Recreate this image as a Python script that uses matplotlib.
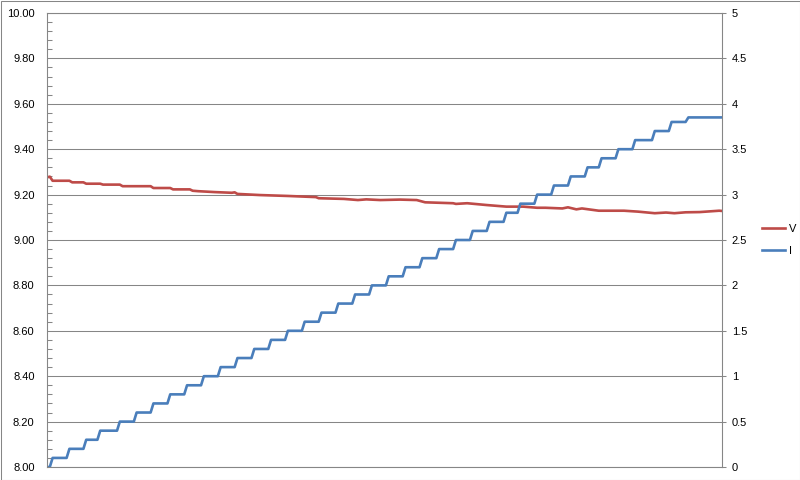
"""
Voltage / current log chart (Excel look)
"""
import numpy as np
import matplotlib
matplotlib.use("Agg")
import matplotlib.pyplot as plt
from matplotlib.patches import Rectangle
from matplotlib.ticker import MultipleLocator, FormatStrFormatter, FuncFormatter

n_samples = 242

# current: step level and the sample index where it starts
i_levels = [0.0, 0.1, 0.2, 0.3, 0.4, 0.5, 0.6, 0.7, 0.8, 0.9,
            1.0, 1.1, 1.2, 1.3, 1.4, 1.5, 1.6, 1.7, 1.8, 1.9,
            2.0, 2.1, 2.2, 2.3, 2.4, 2.5, 2.6, 2.7, 2.8, 2.9,
            3.0, 3.1, 3.2, 3.3, 3.4, 3.5, 3.6, 3.7, 3.8, 3.85]
i_starts = [0, 2, 8, 14, 19, 26, 32, 38, 44, 50,
            56, 62, 68, 74, 80, 86, 92, 98, 104, 110,
            116, 122, 128, 134, 140, 146, 152, 158, 164, 169,
            175, 181, 187, 193, 198, 204, 210, 217, 223, 229]

# voltage read at sample indices
v_idx = [0, 1, 2, 8, 9, 13, 14, 19, 20, 26, 27, 37, 38, 44, 45, 51, 52, 54,
         60, 66, 67, 68, 76, 86, 96, 97, 106, 111, 114, 119, 126, 132, 135,
         145, 146, 150, 157, 164, 170, 175, 178, 184, 186, 189, 191, 197,
         206, 211, 217, 221, 224, 228, 233, 240, 241]
v_val = [9.276, 9.279, 9.261, 9.261, 9.254, 9.254, 9.248, 9.248, 9.244,
         9.244, 9.237, 9.237, 9.229, 9.229, 9.223, 9.223, 9.217, 9.215,
         9.211, 9.208, 9.210, 9.203, 9.198, 9.194, 9.189, 9.184, 9.181,
         9.176, 9.179, 9.176, 9.178, 9.176, 9.166, 9.162, 9.159, 9.162,
         9.154, 9.147, 9.147, 9.142, 9.142, 9.139, 9.144, 9.135, 9.139,
         9.129, 9.129, 9.125, 9.118, 9.121, 9.118, 9.122, 9.123, 9.129,
         9.128]

GRAY = "#868686"
RED = "#BE4B48"
BLUE = "#4A7EBB"


def main():
    """
    build and save the chart
    """
    plt.rcParams["font.family"] = ["Liberation Sans", "DejaVu Sans"]
    i_series = np.repeat(i_levels, np.diff(i_starts + [n_samples]))
    samples = np.arange(n_samples)

    fig = plt.figure(figsize=(8, 4.8), dpi=100)
    axes = fig.add_axes([47 / 800, 13 / 480, 675 / 800, 454 / 480])
    axes2 = axes.twinx()

    line_v, = axes.plot(v_idx, v_val, color=RED, lw=1.9, label="V",
                        solid_joinstyle="round")
    line_i, = axes2.plot(samples, i_series, color=BLUE, lw=1.9, label="I",
                         solid_joinstyle="round")

    axes.set_xlim(0, n_samples - 1)
    axes.set_ylim(8.0, 10.0)
    axes2.set_ylim(0, 5)
    axes.set_xticks([])

    axes.yaxis.set_major_locator(MultipleLocator(0.2))
    axes.yaxis.set_minor_locator(MultipleLocator(0.04))
    axes.yaxis.set_major_formatter(FormatStrFormatter("%.2f"))
    axes.tick_params(axis="y", which="major", length=0, pad=9,
                     labelsize=8, labelcolor="black")
    axes.tick_params(axis="y", which="minor", direction="in", length=3.5,
                     color=GRAY, width=0.75)
    axes.yaxis.grid(True, which="major", color=GRAY, lw=0.75)

    axes2.yaxis.set_major_locator(MultipleLocator(0.5))
    axes2.yaxis.set_major_formatter(FuncFormatter(lambda val, _: f"{val:g}"))
    axes2.tick_params(axis="y", which="major", direction="out", length=3,
                      color=GRAY, width=0.75, pad=4, labelsize=8,
                      labelcolor="black")

    for axs in (axes, axes2):
        for spine in axs.spines.values():
            spine.set_color(GRAY)
            spine.set_linewidth(0.75)

    fig.legend([line_v, line_i], ["V", "I"], loc="center left",
               bbox_to_anchor=(752 / 800, 0.5), frameon=False, fontsize=8,
               handlelength=2.1, handletextpad=0.3, labelspacing=1.05)

    fig.patches.append(Rectangle((0.5 / 800, 0.5 / 480), 799 / 800, 479 / 480,
                                 transform=fig.transFigure, fill=False,
                                 edgecolor=GRAY, lw=0.75))
    fig.savefig("out.png", dpi=100)


if __name__ == "__main__":
    main()
